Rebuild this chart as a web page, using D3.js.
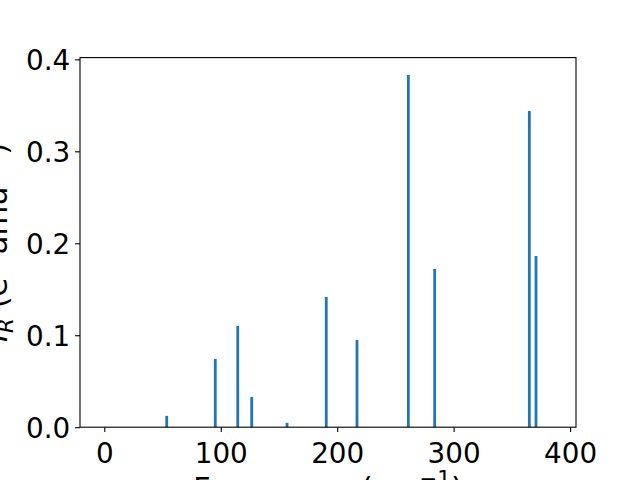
<!DOCTYPE html>
<html><head><meta charset="utf-8">
<script src="https://cdn.jsdelivr.net/npm/d3@7"></script>
<style>body{margin:0;background:#fff;} svg{display:block;}</style>
</head><body>
<svg id="c" width="640" height="480"></svg>
<script>
const frequencies = [53.6, 95.3, 114.6, 126.6, 156.9, 190.6, 217.0, 261.1, 283.7, 365.0, 370.7];
const intensities = [0.0123, 0.0742, 0.110, 0.0329, 0.0047, 0.1416, 0.0949, 0.383, 0.1721, 0.3438, 0.1862];
const xTicks = [0, 100, 200, 300, 400];
const yTicks = [0.0, 0.1, 0.2, 0.3, 0.4];
const barWidth = 2.4;

const svg = d3.select("#c");
const L = 80, R = 576, T = 57.6, B = 427.2;
const x = d3.scaleLinear().domain([-20.87, 405.07]).range([L, R]);
const y = d3.scaleLinear().domain([0, 0.4019]).range([B, T]);
const font = "DejaVu Sans";

svg.append("g").selectAll("rect").data(frequencies).join("rect")
  .attr("x", (d) => x(d - barWidth / 2))
  .attr("width", (d) => x(d + barWidth / 2) - x(d - barWidth / 2))
  .attr("y", (d, i) => y(intensities[i]))
  .attr("height", (d, i) => y(0) - y(intensities[i]))
  .attr("fill", "#1f77b4");

const xa = svg.append("g").attr("transform", `translate(0,${B})`)
  .call(d3.axisBottom(x).tickValues(xTicks).tickFormat(d3.format("d")).tickSize(4.9).tickPadding(4.9));
const ya = svg.append("g").attr("transform", `translate(${L},0)`)
  .call(d3.axisLeft(y).tickValues(yTicks).tickFormat(d3.format(".1f")).tickSize(4.9).tickPadding(4.9));
[xa, ya].forEach(a => {
  a.select(".domain").remove();
  a.selectAll(".tick line").attr("stroke", "#000").attr("stroke-width", 1.1);
  a.selectAll(".tick text").attr("font-family", font).attr("font-size", 27.8).attr("fill", "#000");
});
xa.selectAll(".tick text").attr("dy", null).attr("y", 36.3);
ya.selectAll(".tick text").attr("dy", "0.36em");

svg.append("rect").attr("x", L).attr("y", T).attr("width", R - L).attr("height", B - T)
  .attr("fill", "none").attr("stroke", "#000").attr("stroke-width", 1.1);

// x label
const xl = svg.append("text").attr("x", (L + R) / 2).attr("y", 499).attr("text-anchor", "middle")
  .attr("font-family", font).attr("font-size", 30.6).attr("fill", "#000");
xl.append("tspan").text("Frequency (cm");
xl.append("tspan").attr("dy", -13).attr("font-size", 21.4).text("\u22121");
xl.append("tspan").attr("dy", 13).text(")");

// y label
const yl = svg.append("text").attr("transform", `translate(7,${(T + B) / 2}) rotate(-90)`)
  .attr("text-anchor", "middle").attr("font-family", font).attr("font-size", 30.6).attr("fill", "#000");
yl.append("tspan").attr("font-style", "italic").text("I");
yl.append("tspan").attr("font-style", "italic").attr("font-size", 21.4).attr("dy", 6).text("R");
yl.append("tspan").attr("dy", -6).text(" (e");
yl.append("tspan").attr("font-size", 21.4).attr("dy", -13).text("2");
yl.append("tspan").attr("dy", 13).text(" amu");
yl.append("tspan").attr("font-size", 21.4).attr("dy", -13).text("\u22121");
yl.append("tspan").attr("dy", 13).text(")");
</script>
</body></html>
